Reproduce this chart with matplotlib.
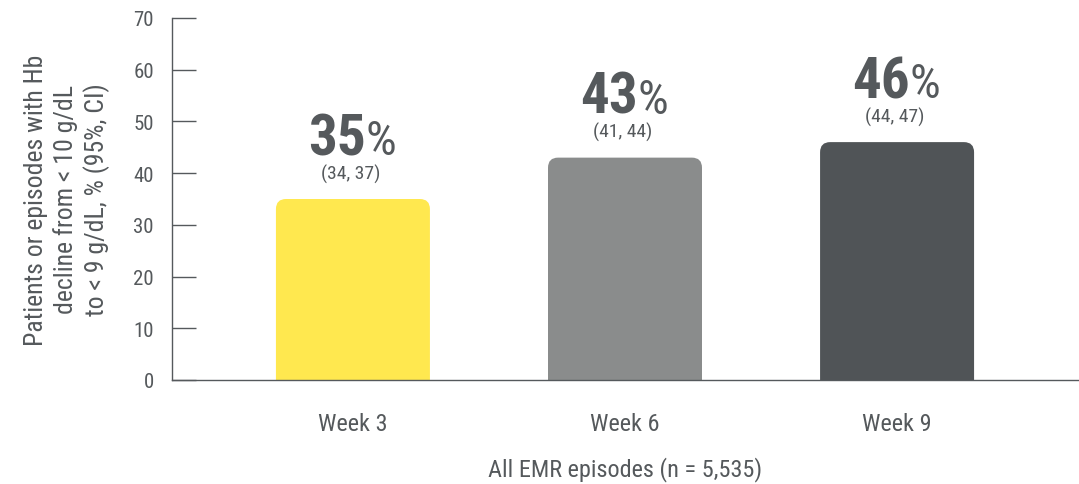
import matplotlib
matplotlib.use("Agg")
import matplotlib.pyplot as plt
from matplotlib.patches import FancyBboxPatch
from matplotlib import font_manager

categories = ["Week 3", "Week 6", "Week 9"]
values = [35, 43, 46]
ci_labels = ["(34, 37)", "(41, 44)", "(44, 47)"]
pct_labels = ["35", "43", "46"]
colors = ["#FFE84F", "#8A8C8C", "#505457"]
yticks = [0, 10, 20, 30, 40, 50, 60, 70]
ylabel = "Patients or episodes with Hb\ndecline from < 10 g/dL\nto < 9 g/dL, % (95%, CI)"
xlabel = "All EMR episodes (n = 5,535)"

names = {f.name for f in font_manager.fontManager.ttflist}
fam = "Roboto"
for cand in ["Roboto Condensed", "Liberation Sans Narrow", "Roboto"]:
    if cand in names:
        fam = cand
        break
plt.rcParams["font.family"] = [fam, "DejaVu Sans"]
tc = "#55595c"

fig = plt.figure(figsize=(10.79, 4.85), dpi=100)
ax = fig.add_axes([172/1079, 104/485, 906/1079, 362/485])
x = list(range(len(categories)))
bars = ax.bar(x, values, width=0.566, color=colors)
ax.set_xlim(-0.665, 2.665)
ax.set_ylim(0, 70)

rx = 0.037
ry = 1.95
for b, c in zip(bars, colors):
    b.set_visible(False)
    p = FancyBboxPatch((b.get_x(), -5), b.get_width(), b.get_height() + 5,
                       boxstyle=f"round,pad=0,rounding_size={rx}",
                       mutation_aspect=ry/rx, facecolor=c, edgecolor="none",
                       clip_on=True)
    ax.add_patch(p)

for xi, v, pl, ci in zip(x, values, pct_labels, ci_labels):
    ax.text(xi + 0.047, v + 8.7, pl, ha="right", va="baseline", fontsize=41,
            fontweight="bold", color=tc)
    ax.text(xi + 0.047, v + 8.7, "%", ha="left", va="baseline", fontsize=35,
            color=tc)
    ax.text(xi - 0.01, v + 5.0, ci, ha="center", va="center", fontsize=14,
            color=tc)

for s in ["top", "right"]:
    ax.spines[s].set_visible(False)
for s in ["left", "bottom"]:
    ax.spines[s].set_color("#55595c")
    ax.spines[s].set_linewidth(1.0)
ax.set_yticks(yticks)
ax.tick_params(axis="y", direction="in", length=17, width=1, colors="#55595c",
               labelsize=15, labelcolor=tc, pad=13)
ax.set_xticks(x)
ax.set_xticklabels(categories)
ax.tick_params(axis="x", length=0, labelsize=17.5, labelcolor=tc, pad=23)
ax.set_xlabel(xlabel, fontsize=17.5, color=tc, labelpad=15)
ax.set_ylabel(ylabel, fontsize=18.5, color=tc, labelpad=17, linespacing=1.25)

fig.savefig("out.png", dpi=100)
